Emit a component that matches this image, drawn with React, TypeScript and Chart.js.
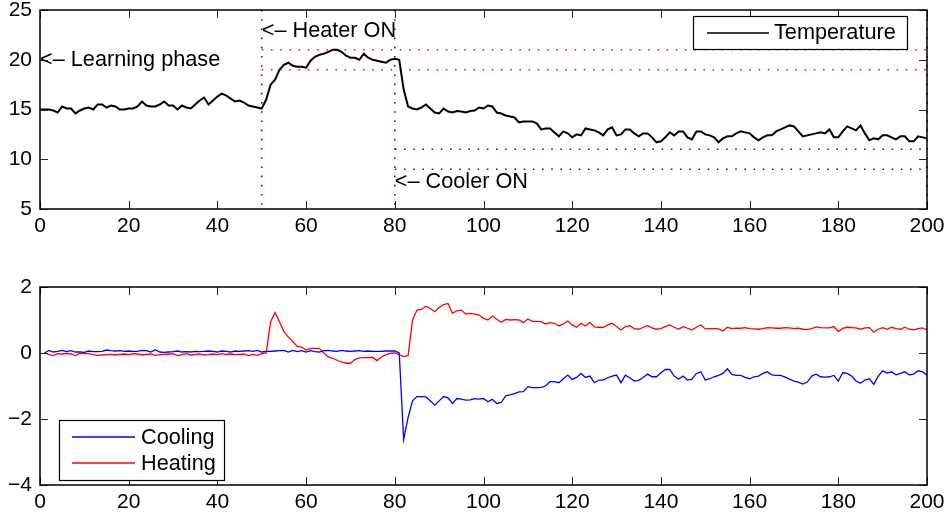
import React, { useEffect, useRef } from "react";
import { Chart, registerables } from "chart.js";

Chart.register(...registerables);

// ---------------- DATA ----------------
const tempX: number[] = Array.from({ length: 201 }, (_, i) => i);
const temperature: number[] = [
  15.0, 15.0, 15.0, 14.9, 14.7, 15.3, 15.1, 15.1, 14.6, 14.9,
  15.1, 15.2, 15.0, 15.5, 15.5, 15.2, 15.4, 15.3, 15.0, 15.0,
  15.1, 15.1, 15.3, 15.8, 15.4, 15.3, 15.3, 15.5, 15.8, 15.4,
  15.4, 15.0, 15.4, 15.2, 15.1, 15.5, 15.9, 16.2, 15.5, 15.9,
  16.3, 16.6, 16.4, 16.1, 15.8, 15.9, 15.7, 15.4, 15.3, 15.2,
  15.1, 16.0, 17.5, 18.0, 19.0, 19.5, 19.7, 19.4, 19.3, 19.3,
  19.2, 19.9, 20.3, 20.5, 20.6, 20.8, 21.0, 21.0, 20.8, 20.4,
  20.2, 20.2, 20.0, 20.6, 20.2, 20.0, 19.9, 19.8, 19.7, 20.0,
  20.1, 20.0, 17.0, 15.3, 15.1, 15.0, 15.2, 15.5, 15.1, 14.7,
  14.6, 15.1, 14.8, 14.7, 14.85, 14.8, 14.7, 14.85, 14.9, 15.2,
  15.1, 15.4, 15.3, 14.7, 14.6, 14.4, 14.3, 14.2, 13.7, 13.8,
  13.8, 13.8, 13.6, 13.0, 13.1, 13.1, 12.7, 12.3, 12.8, 12.6,
  12.2, 12.5, 12.4, 13.1, 13.0, 12.9, 12.7, 12.4, 13.0, 13.2,
  12.4, 12.5, 13.0, 13.0, 12.6, 12.3, 12.6, 12.6, 12.2, 11.7,
  11.8, 12.2, 12.7, 12.4, 12.8, 12.8, 12.2, 12.0, 12.8, 12.8,
  12.5, 12.4, 12.2, 11.7, 12.1, 12.3, 12.3, 12.6, 12.8, 12.7,
  12.6, 12.2, 11.9, 12.2, 12.4, 12.4, 12.8, 13.0, 13.2, 13.4,
  13.3, 12.8, 12.3, 12.4, 12.5, 12.6, 12.7, 12.6, 13.0, 12.2,
  12.2, 12.8, 13.3, 13.1, 12.9, 13.4, 12.6, 11.9, 12.1, 12.0,
  12.4, 12.4, 12.2, 12.0, 12.3, 12.3, 11.8, 11.8, 12.3, 12.2,
  12.1,
];

const ctrlX: number[] = Array.from({ length: 200 }, (_, i) => i + 1);
const cooling: number[] = [
  0.0, 0.08, 0.03, 0.05, 0.08, 0.04, 0.07, 0.03, 0.03, 0.02,
  0.06, 0.04, 0.04, 0.05, 0.09, 0.07, 0.06, 0.07, 0.05, 0.06,
  0.05, 0.05, 0.08, 0.07, 0.03, 0.10, 0.03, 0.02, 0.03, 0.04,
  0.06, 0.03, 0.04, 0.03, 0.05, 0.04, 0.05, 0.06, 0.05, 0.03,
  0.06, 0.05, 0.03, 0.06, 0.05, 0.06, 0.07, 0.05, 0.08, 0.03,
  0.05, 0.05, 0.06, 0.07, 0.08, 0.03, 0.08, 0.04, 0.07, 0.03,
  0.07, 0.04, 0.03, 0.07, 0.08, 0.06, 0.05, 0.08, 0.06, 0.05,
  0.06, 0.07, 0.05, 0.06, 0.05, 0.05, 0.05, 0.06, 0.06, 0.06,
  0.0, -2.62, -1.95, -1.45, -1.32, -1.32, -1.33, -1.45, -1.58, -1.45,
  -1.32, -1.36, -1.53, -1.38, -1.40, -1.43, -1.42, -1.38, -1.40, -1.38,
  -1.48, -1.40, -1.53, -1.50, -1.30, -1.27, -1.23, -1.18, -1.17, -1.02,
  -1.05, -1.05, -1.04, -1.00, -0.87, -0.87, -0.90, -0.78, -0.67, -0.80,
  -0.74, -0.62, -0.74, -0.70, -0.90, -0.82, -0.82, -0.75, -0.70, -0.67,
  -0.90, -0.67, -0.75, -0.85, -0.83, -0.74, -0.64, -0.72, -0.72, -0.60,
  -0.50, -0.50, -0.70, -0.79, -0.70, -0.82, -0.79, -0.62, -0.57, -0.82,
  -0.78, -0.72, -0.68, -0.62, -0.48, -0.65, -0.68, -0.68, -0.74, -0.78,
  -0.72, -0.70, -0.62, -0.57, -0.66, -0.68, -0.68, -0.73, -0.79, -0.85,
  -0.88, -0.94, -0.88, -0.70, -0.64, -0.72, -0.73, -0.72, -0.68, -0.85,
  -0.60, -0.62, -0.70, -0.85, -0.92, -0.82, -0.78, -0.95, -0.70, -0.54,
  -0.61, -0.57, -0.66, -0.62, -0.57, -0.66, -0.64, -0.54, -0.57, -0.67,
];
const heating: number[] = [
  0.0, -0.04, -0.08, -0.02, -0.03, -0.01, -0.03, -0.08, -0.01, -0.02,
  -0.02, -0.05, -0.07, -0.06, -0.05, -0.04, -0.06, -0.04, -0.03, -0.05,
  -0.02, -0.03, -0.06, -0.04, -0.03, -0.07, -0.05, -0.04, -0.03, -0.02,
  -0.08, -0.05, -0.02, -0.06, -0.04, -0.03, -0.06, -0.05, -0.03, -0.05,
  -0.02, -0.04, -0.03, -0.05, -0.04, -0.03, -0.08, -0.04, -0.07, -0.02,
  0.0, 0.95, 1.23, 0.95, 0.65, 0.48, 0.35, 0.20, 0.18, 0.09,
  0.14, 0.14, 0.14, 0.0, -0.12, -0.16, -0.22, -0.28, -0.31, -0.31,
  -0.20, -0.15, -0.14, -0.14, -0.13, -0.23, -0.12, -0.05, -0.01, 0.0,
  -0.05, -0.11, -0.08, 1.0, 1.30, 1.32, 1.42, 1.35, 1.25, 1.38,
  1.47, 1.50, 1.20, 1.28, 1.30, 1.18, 1.20, 1.18, 1.15, 1.05,
  1.00, 1.12, 1.02, 0.93, 1.02, 1.00, 1.01, 1.00, 0.92, 1.03,
  0.96, 0.96, 0.95, 0.88, 0.92, 0.90, 0.82, 0.88, 0.97, 0.85,
  0.78, 0.90, 0.82, 0.93, 0.79, 0.78, 0.77, 0.85, 0.90, 0.80,
  0.70, 0.80, 0.83, 0.74, 0.72, 0.78, 0.83, 0.76, 0.72, 0.74,
  0.80, 0.85, 0.78, 0.72, 0.80, 0.75, 0.70, 0.78, 0.85, 0.73,
  0.74, 0.74, 0.73, 0.67, 0.78, 0.74, 0.75, 0.75, 0.77, 0.74,
  0.73, 0.72, 0.74, 0.77, 0.76, 0.75, 0.75, 0.77, 0.76, 0.74,
  0.75, 0.72, 0.71, 0.74, 0.79, 0.77, 0.76, 0.76, 0.80, 0.65,
  0.75, 0.78, 0.77, 0.76, 0.72, 0.76, 0.77, 0.63, 0.72, 0.77,
  0.72, 0.78, 0.74, 0.72, 0.78, 0.72, 0.70, 0.74, 0.76, 0.70,
];

const xTicks: number[] = [0, 20, 40, 60, 80, 100, 120, 140, 160, 180, 200];
const topYTicks: number[] = [5, 10, 15, 20, 25];
const bottomYTicks: number[] = [-4, -2, 0, 2];

// reference markers (data units)
const heaterOnX = 50;
const coolerOnX = 80;
const endX = 200;
const heatBand: number[] = [19, 21];
const coolBand: number[] = [9, 11];

const annotations = [
  { text: "<\u2013 Learning phase", x: 0, y: 19.95 },
  { text: "<\u2013 Heater ON", x: 50, y: 22.85 },
  { text: "<\u2013 Cooler ON", x: 80, y: 7.75 },
];

const FONT = "'Liberation Sans', Arial, Helvetica, sans-serif";
const TEXT_PX = 21.7;
const TICK_PX = 21;

function fmt(v: number): string {
  return v < 0 ? "\u2212" + Math.abs(v) : String(v);
}

function boxAndTicks(chart: any, yTicks: number[]) {
  const ctx = chart.ctx;
  const a = chart.chartArea;
  const xs = chart.scales.x;
  const ys = chart.scales.y;
  ctx.save();
  ctx.strokeStyle = "#262626";
  ctx.lineWidth = 1;
  const L = 8;
  ctx.beginPath();
  xTicks.forEach((t) => {
    const px = Math.round(xs.getPixelForValue(t)) + 0.5;
    ctx.moveTo(px, a.bottom);
    ctx.lineTo(px, a.bottom - L);
    ctx.moveTo(px, a.top);
    ctx.lineTo(px, a.top + L);
  });
  yTicks.forEach((t) => {
    const py = Math.round(ys.getPixelForValue(t)) + 0.5;
    ctx.moveTo(a.left, py);
    ctx.lineTo(a.left + L, py);
    ctx.moveTo(a.right, py);
    ctx.lineTo(a.right - L, py);
  });
  ctx.stroke();
  ctx.strokeStyle = "#000";
  ctx.lineWidth = 1.5;
  ctx.strokeRect(a.left, a.top, a.right - a.left, a.bottom - a.top);
  ctx.restore();
}

const topPlugin = {
  id: "topDecor",
  beforeDatasetsDraw(chart: any) {
    const ctx = chart.ctx;
    const xs = chart.scales.x;
    const ys = chart.scales.y;
    const X = (v: number) => xs.getPixelForValue(v);
    const Y = (v: number) => ys.getPixelForValue(v);
    ctx.save();
    ctx.lineWidth = 1.6;
    ctx.setLineDash([1.6, 7.6]);
    ctx.strokeStyle = "#1010e0";
    [heaterOnX, coolerOnX, endX].forEach((vx) => {
      ctx.beginPath();
      ctx.moveTo(X(vx), Y(25));
      ctx.lineTo(X(vx), Y(5));
      ctx.stroke();
    });
    ctx.strokeStyle = "#ff1010";
    heatBand.forEach((vy) => {
      ctx.beginPath();
      ctx.moveTo(X(heaterOnX), Y(vy));
      ctx.lineTo(X(endX), Y(vy));
      ctx.stroke();
    });
    ctx.strokeStyle = "#1010e0";
    coolBand.forEach((vy) => {
      ctx.beginPath();
      ctx.moveTo(X(coolerOnX), Y(vy));
      ctx.lineTo(X(endX), Y(vy));
      ctx.stroke();
    });
    ctx.restore();
  },
  afterDraw(chart: any) {
    const ctx = chart.ctx;
    const a = chart.chartArea;
    const xs = chart.scales.x;
    const ys = chart.scales.y;
    boxAndTicks(chart, topYTicks);
    ctx.save();
    ctx.fillStyle = "#000";
    ctx.font = `${TEXT_PX}px ${FONT}`;
    ctx.textAlign = "left";
    ctx.textBaseline = "middle";
    annotations.forEach((an) => {
      ctx.fillText(an.text, xs.getPixelForValue(an.x), ys.getPixelForValue(an.y));
    });
    const bw = 214;
    const bh = 33;
    const bx = Math.round(a.right - 20 - bw);
    const by = Math.round(a.top + 6);
    ctx.fillStyle = "#fff";
    ctx.fillRect(bx, by, bw, bh);
    ctx.strokeStyle = "#000";
    ctx.lineWidth = 1.2;
    ctx.strokeRect(bx + 0.5, by + 0.5, bw, bh);
    ctx.beginPath();
    ctx.lineWidth = 1.3;
    ctx.moveTo(bx + 14, by + 17);
    ctx.lineTo(bx + 76, by + 17);
    ctx.stroke();
    ctx.fillStyle = "#000";
    ctx.fillText("Temperature", bx + 81, by + bh / 2 + 1);
    ctx.restore();
  },
};

const bottomPlugin = {
  id: "bottomDecor",
  afterDraw(chart: any) {
    const ctx = chart.ctx;
    const a = chart.chartArea;
    boxAndTicks(chart, bottomYTicks);
    ctx.save();
    const bw = 165;
    const bh = 60;
    const bx = Math.round(a.left + 19);
    const by = Math.round(a.bottom - 5 - bh);
    ctx.fillStyle = "#fff";
    ctx.fillRect(bx, by, bw, bh);
    ctx.strokeStyle = "#000";
    ctx.lineWidth = 1.2;
    ctx.strokeRect(bx + 0.5, by + 0.5, bw, bh);
    ctx.font = `${TEXT_PX}px ${FONT}`;
    ctx.textAlign = "left";
    ctx.textBaseline = "middle";
    const rows = [
      { label: "Cooling", color: "rgb(0,0,255)", dy: 17 },
      { label: "Heating", color: "rgb(255,0,0)", dy: 43 },
    ];
    rows.forEach((r) => {
      ctx.beginPath();
      ctx.strokeStyle = r.color;
      ctx.lineWidth = 1.5;
      ctx.moveTo(bx + 13, by + r.dy);
      ctx.lineTo(bx + 76, by + r.dy);
      ctx.stroke();
      ctx.fillStyle = "#000";
      ctx.fillText(r.label, bx + 82, by + r.dy + 1);
    });
    ctx.restore();
  },
};

function makeOptions(yMin: number, yMax: number, yStep: number, xAxisH: number, padTop: number) {
  return {
    responsive: false,
    animation: false as const,
    devicePixelRatio: 1,
    layout: { padding: { top: padTop, right: 20, left: 0, bottom: 0 } },
    plugins: { legend: { display: false }, tooltip: { enabled: false } },
    elements: { point: { radius: 0 } },
    scales: {
      x: {
        type: "linear" as const,
        min: 0,
        max: 200,
        grid: { display: false, drawTicks: false },
        border: { display: false },
        afterFit: (s: any) => {
          s.height = xAxisH;
          s.paddingLeft = 0;
          s.paddingRight = 0;
        },
        afterBuildTicks: (s: any) => {
          s.ticks = xTicks.map((v) => ({ value: v }));
        },
        ticks: {
          color: "#000",
          font: { size: TICK_PX, family: FONT },
          padding: 5,
          maxRotation: 0,
          autoSkip: false,
          callback: (v: any) => fmt(Number(v)),
        },
      },
      y: {
        type: "linear" as const,
        min: yMin,
        max: yMax,
        grid: { display: false, drawTicks: false },
        border: { display: false },
        afterFit: (s: any) => {
          s.width = 40;
          s.paddingTop = 0;
          s.paddingBottom = 0;
        },
        ticks: {
          color: "#000",
          font: { size: TICK_PX, family: FONT },
          padding: 8,
          stepSize: yStep,
          callback: (v: any) => fmt(Number(v)),
        },
      },
    },
  };
}

export default function App() {
  const topRef = useRef<HTMLCanvasElement | null>(null);
  const botRef = useRef<HTMLCanvasElement | null>(null);

  useEffect(() => {
    Chart.defaults.font.family = FONT;
    const top = new Chart(topRef.current as HTMLCanvasElement, {
      type: "line",
      data: {
        datasets: [
          {
            label: "Temperature",
            data: tempX.map((x, i) => ({ x, y: temperature[i] })),
            borderColor: "#000",
            borderWidth: 2,
            pointRadius: 0,
            tension: 0,
          },
        ],
      },
      options: makeOptions(5, 25, 5, 40, 10) as any,
      plugins: [topPlugin],
    });
    const bot = new Chart(botRef.current as HTMLCanvasElement, {
      type: "line",
      data: {
        datasets: [
          {
            label: "Cooling",
            data: ctrlX.map((x, i) => ({ x, y: cooling[i] })),
            borderColor: "#0000ff",
            borderWidth: 1.3,
            pointRadius: 0,
            tension: 0,
          },
          {
            label: "Heating",
            data: ctrlX.map((x, i) => ({ x, y: heating[i] })),
            borderColor: "#ff0000",
            borderWidth: 1.3,
            pointRadius: 0,
            tension: 0,
          },
        ],
      },
      options: makeOptions(-4, 2, 2, 30, 29) as any,
      plugins: [bottomPlugin],
    });
    return () => {
      top.destroy();
      bot.destroy();
    };
  }, []);

  return (
    <div
      style={{
        position: "absolute",
        left: 0,
        top: 0,
        width: 947,
        height: 517,
        background: "#fff",
        overflow: "hidden",
      }}
    >
      <canvas
        ref={topRef}
        width={947}
        height={249}
        style={{ position: "absolute", left: 0, top: 0, width: 947, height: 249 }}
      />
      <canvas
        ref={botRef}
        width={947}
        height={257}
        style={{ position: "absolute", left: 0, top: 258, width: 947, height: 257 }}
      />
    </div>
  );
}
